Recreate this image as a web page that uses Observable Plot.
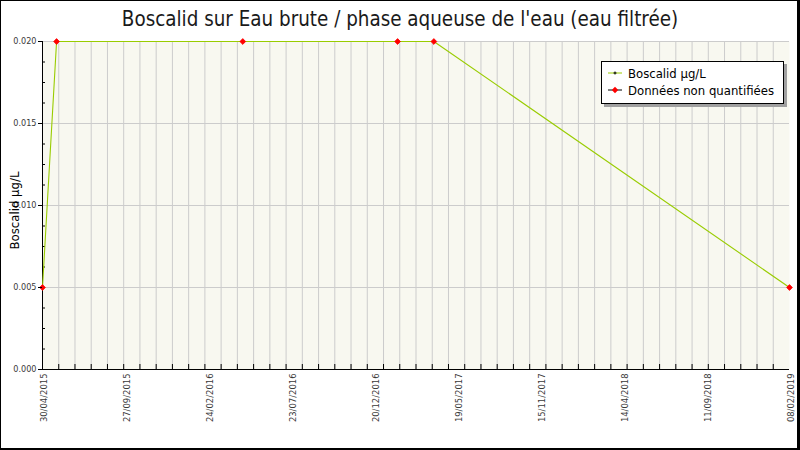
<!DOCTYPE html>
<html>
<head>
<meta charset="utf-8">
<script src="https://cdn.jsdelivr.net/npm/d3@7"></script>
<script src="https://cdn.jsdelivr.net/npm/@observablehq/plot@0.6"></script>
<style>
  body { margin: 0; background: #fff; }
  #wrap { position: relative; width: 800px; height: 450px; overflow: hidden; background: #fff; }
  #frame { position: absolute; left: 0; top: 0; width: 800px; height: 450px; box-sizing: border-box;
           border: 1px solid #000; border-right-width: 3px; border-bottom-width: 2px; pointer-events: none; }
  #title { position: absolute; left: 0; top: 7px; width: 800px; text-align: center;
           font-family: "DejaVu Sans Condensed", "DejaVu Sans", sans-serif; font-size: 20.4px; color: #1a1a1a; }
  #legend { position: absolute; left: 601px; top: 61px; width: 181px; height: 41px; background: #fff;
            border: 1px solid #000; box-shadow: 3px 3px 0 #a0a0a0;
            font-family: "DejaVu Sans Condensed", "DejaVu Sans", sans-serif; font-size: 13px; color: #000; }
  .row { position: absolute; left: 0; height: 17px; line-height: 17px; white-space: nowrap; }
  .row svg { position: absolute; left: 5px; top: 2px; }
  .row span { position: absolute; left: 26px; top: 0; }
</style>
</head>
<body>
<div id="wrap">
  <div id="chart"></div>
  <div id="title"></div>
  <div id="legend"></div>
  <div id="frame"></div>
</div>
<script>
// ---- data ----
const titleText = "Boscalid sur Eau brute / phase aqueuse de l'eau (eau filtrée)";
const yLabel = "Boscalid µg/L";
const sampleDates = ["30/04/2015", "26/05/2015", "04/05/2016", "14/02/2017", "22/04/2017", "08/02/2019"];
const sampleValues = [0.005, 0.020, 0.020, 0.020, 0.020, 0.005];
const quantified = [false, false, false, false, false, false];
const xTickLabels = ["30/04/2015", "27/09/2015", "24/02/2016", "23/07/2016", "20/12/2016",
                     "19/05/2017", "15/11/2017", "14/04/2018", "11/09/2018", "08/02/2019"];
const yTicks = [0, 0.005, 0.010, 0.015, 0.020];
const yMinorTicks = [0.00125, 0.0025, 0.00375, 0.00625, 0.0075, 0.00875, 0.01125, 0.0125, 0.01375, 0.01625, 0.0175, 0.01875];
const legendItems = ["Boscalid µg/L", "Données non quantifiées"];

// ---- build ----
const parse = d3.utcParse("%d/%m/%Y");
const data = sampleDates.map((d, i) => ({date: parse(d), value: sampleValues[i], q: quantified[i]}));
const xStart = parse(xTickLabels[0]), xEnd = parse(xTickLabels[xTickLabels.length - 1]);
// labels are spread evenly along the axis
const nLab = xTickLabels.length - 1;
const xLabelPos = xTickLabels.map((_, i) => new Date(+xStart + (xEnd - xStart) * i / nLab));
const labelAt = new Map(xLabelPos.map((d, i) => [+d, xTickLabels[i]]));
// minor ticks / grid every 30 days
const stepMs = 30 * 864e5;
const xMinor = d3.range(1, 60).map(k => new Date(+xStart + k * stepMs)).filter(d => d < xEnd);

const lineColor = "#99cc00";
const font = "DejaVu Sans Condensed";

const chart = Plot.plot({
  width: 800,
  height: 450,
  marginLeft: 42,
  marginRight: 11,
  marginTop: 41,
  marginBottom: 81,
  style: {fontFamily: font, fontSize: "9px", background: "transparent", overflow: "visible"},
  x: {type: "utc", domain: [xStart, xEnd]},
  y: {domain: [0, 0.02]},
  marks: [
    Plot.frame({fill: "#f8f8f0", stroke: null}),
    Plot.ruleX(xMinor, {stroke: "#cccccc", strokeWidth: 1}),
    Plot.ruleY(yTicks.filter(d => d > 0), {stroke: "#cccccc", strokeWidth: 1}),
    Plot.axisX(xMinor, {anchor: "bottom", tickSize: 5, dy: -5, text: null, label: null, stroke: "#000"}),
    Plot.axisY(yMinorTicks, {anchor: "left", tickSize: 3, dx: 3, text: null, label: null, stroke: "#000"}),
    Plot.ruleX([xStart], {stroke: "#000"}),
    Plot.ruleY([0], {stroke: "#000"}),
    Plot.line(data, {x: "date", y: "value", stroke: lineColor, strokeWidth: 1.1}),
    Plot.dot(data.filter(d => !d.q), {x: "date", y: "value", symbol: "diamond2", fill: "#ff0000", stroke: "#ff0000", strokeWidth: 0.8, r: 2.6}),
    Plot.axisY(yTicks, {anchor: "left", tickSize: 4, tickPadding: 2, tickFormat: d3.format(".3f"),
                        label: null, fill: "#3a3a3a", stroke: "#000", fontSize: 9}),
    Plot.axisX(xLabelPos, {anchor: "bottom", tickSize: 0, tickPadding: 4, tickRotate: -90, dx: 1,
                           tickFormat: d => labelAt.get(+d), label: null, fill: "#3a3a3a", fontSize: 9.4}),
    Plot.text([yLabel], {frameAnchor: "left", dx: -28, dy: 5, rotate: -90, textAnchor: "middle", text: d => d,
                         fontSize: 13, fill: "#000", fontFamily: font})
  ]
});
document.getElementById("chart").appendChild(chart);
document.getElementById("title").textContent = titleText;

// ---- legend ----
const legend = document.getElementById("legend");
const symbols = [
  `<svg width="16" height="12"><line x1="1" y1="6" x2="15" y2="6" stroke="${lineColor}"/><path d="M8,4.5v3M6.5,6h3" stroke="#000"/></svg>`,
  `<svg width="16" height="12"><line x1="1" y1="6" x2="15" y2="6" stroke="#000"/><path d="M8,2.8L11.2,6L8,9.2L4.8,6Z" fill="#ff0000"/></svg>`
];
legendItems.forEach((t, i) => {
  const row = document.createElement("div");
  row.className = "row";
  row.style.top = (3 + i * 17) + "px";
  row.innerHTML = symbols[i] + `<span></span>`;
  row.querySelector("span").textContent = t;
  legend.appendChild(row);
});
</script>
</body>
</html>
